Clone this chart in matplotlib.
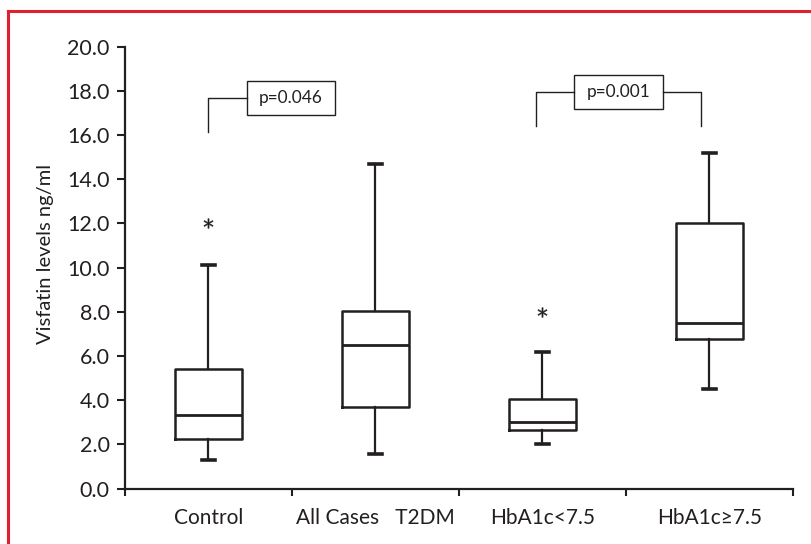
import matplotlib
matplotlib.use("Agg")
import matplotlib.pyplot as plt
from matplotlib.lines import Line2D
from matplotlib.patches import Rectangle

# data (ng/ml)
groups = ["Control", "All Cases   T2DM", "HbA1c<7.5", "HbA1c\u22657.5"]
whisker_low = [1.3, 1.55, 2.0, 4.5]
q1 = [2.27, 3.71, 2.65, 6.78]
median = [3.35, 6.5, 3.02, 7.5]
q3 = [5.43, 8.06, 4.06, 12.0]
whisker_high = [10.1, 14.7, 6.2, 15.2]
outliers = [[12.0], [], [8.0], []]
p_values = ["p=0.046", "p=0.001"]

ink = "#231f20"
plt.rcParams["font.family"] = ["Lato", "DejaVu Sans"]

fig = plt.figure(figsize=(8.12, 5.44), dpi=100)
ax = fig.add_axes([0.1539, 0.1017, 0.8227, 0.8125])

stats = []
for i in range(len(groups)):
    stats.append(dict(whislo=whisker_low[i], q1=q1[i], med=median[i], q3=q3[i],
                      whishi=whisker_high[i], fliers=outliers[i], label=groups[i]))

ax.bxp(stats, positions=range(1, len(groups) + 1), widths=0.405, capwidths=0.08,
       boxprops=dict(color=ink, linewidth=1.8),
       medianprops=dict(color=ink, linewidth=2.0),
       whiskerprops=dict(color=ink, linewidth=1.6),
       capprops=dict(color=ink, linewidth=2.6),
       flierprops=dict(marker="$*$", markersize=7, markerfacecolor=ink,
                       markeredgecolor=ink, markeredgewidth=0.3, linestyle="none"))

ax.set_xlim(0.5, 4.5)
ax.set_ylim(0, 20)
ax.set_yticks([i * 2.0 for i in range(11)])
ax.set_yticklabels(["%.1f" % (i * 2.0) for i in range(11)])
ax.set_xticks([0.5, 1.5, 2.5, 3.5, 4.5])
ax.set_xticklabels([])
ax.set_xticks([1, 2, 3, 4], minor=True)
ax.set_xticklabels(groups, minor=True)
ax.tick_params(axis="x", which="minor", length=0, pad=14, labelsize=15, colors=ink)
ax.tick_params(axis="x", which="major", length=5, width=1.5, direction="out", color=ink)
ax.tick_params(axis="y", length=6, width=1.5, direction="out", pad=5, labelsize=15.5, colors=ink)

for s in ["top", "right"]:
    ax.spines[s].set_visible(False)
for s in ["left", "bottom"]:
    ax.spines[s].set_linewidth(1.6)
    ax.spines[s].set_color(ink)

ax.set_ylabel("Visfatin levels ng/ml", fontsize=14.5, color=ink)
ax.yaxis.set_label_coords(-0.106, 0.53)

# significance brackets
bl = dict(color=ink, linewidth=1.0)
ax.plot([1.0, 1.0, 1.23], [16.15, 17.67, 17.67], **bl)
ax.add_patch(Rectangle((1.23, 16.91), 0.53, 1.54, fill=False, edgecolor=ink, linewidth=1.0))
ax.text(1.495, 17.68, p_values[0], ha="center", va="center", fontsize=12.4, color=ink)

ax.plot([2.96, 2.96, 3.19], [16.4, 17.93, 17.93], **bl)
ax.plot([3.72, 3.95, 3.95], [17.93, 17.93, 16.4], **bl)
ax.add_patch(Rectangle((3.19, 17.18), 0.53, 1.55, fill=False, edgecolor=ink, linewidth=1.0))
ax.text(3.455, 17.95, p_values[1], ha="center", va="center", fontsize=12.4, color=ink)

# red frame (top and left edges)
red = "#e0202e"
fig.add_artist(Line2D([8 / 812, 8 / 812], [0, 1 - 10.7 / 544], color=red, linewidth=2.2))
fig.add_artist(Line2D([8 / 812, 1], [1 - 10.7 / 544, 1 - 10.7 / 544], color=red, linewidth=2.2))

fig.savefig("out.png", dpi=100)
